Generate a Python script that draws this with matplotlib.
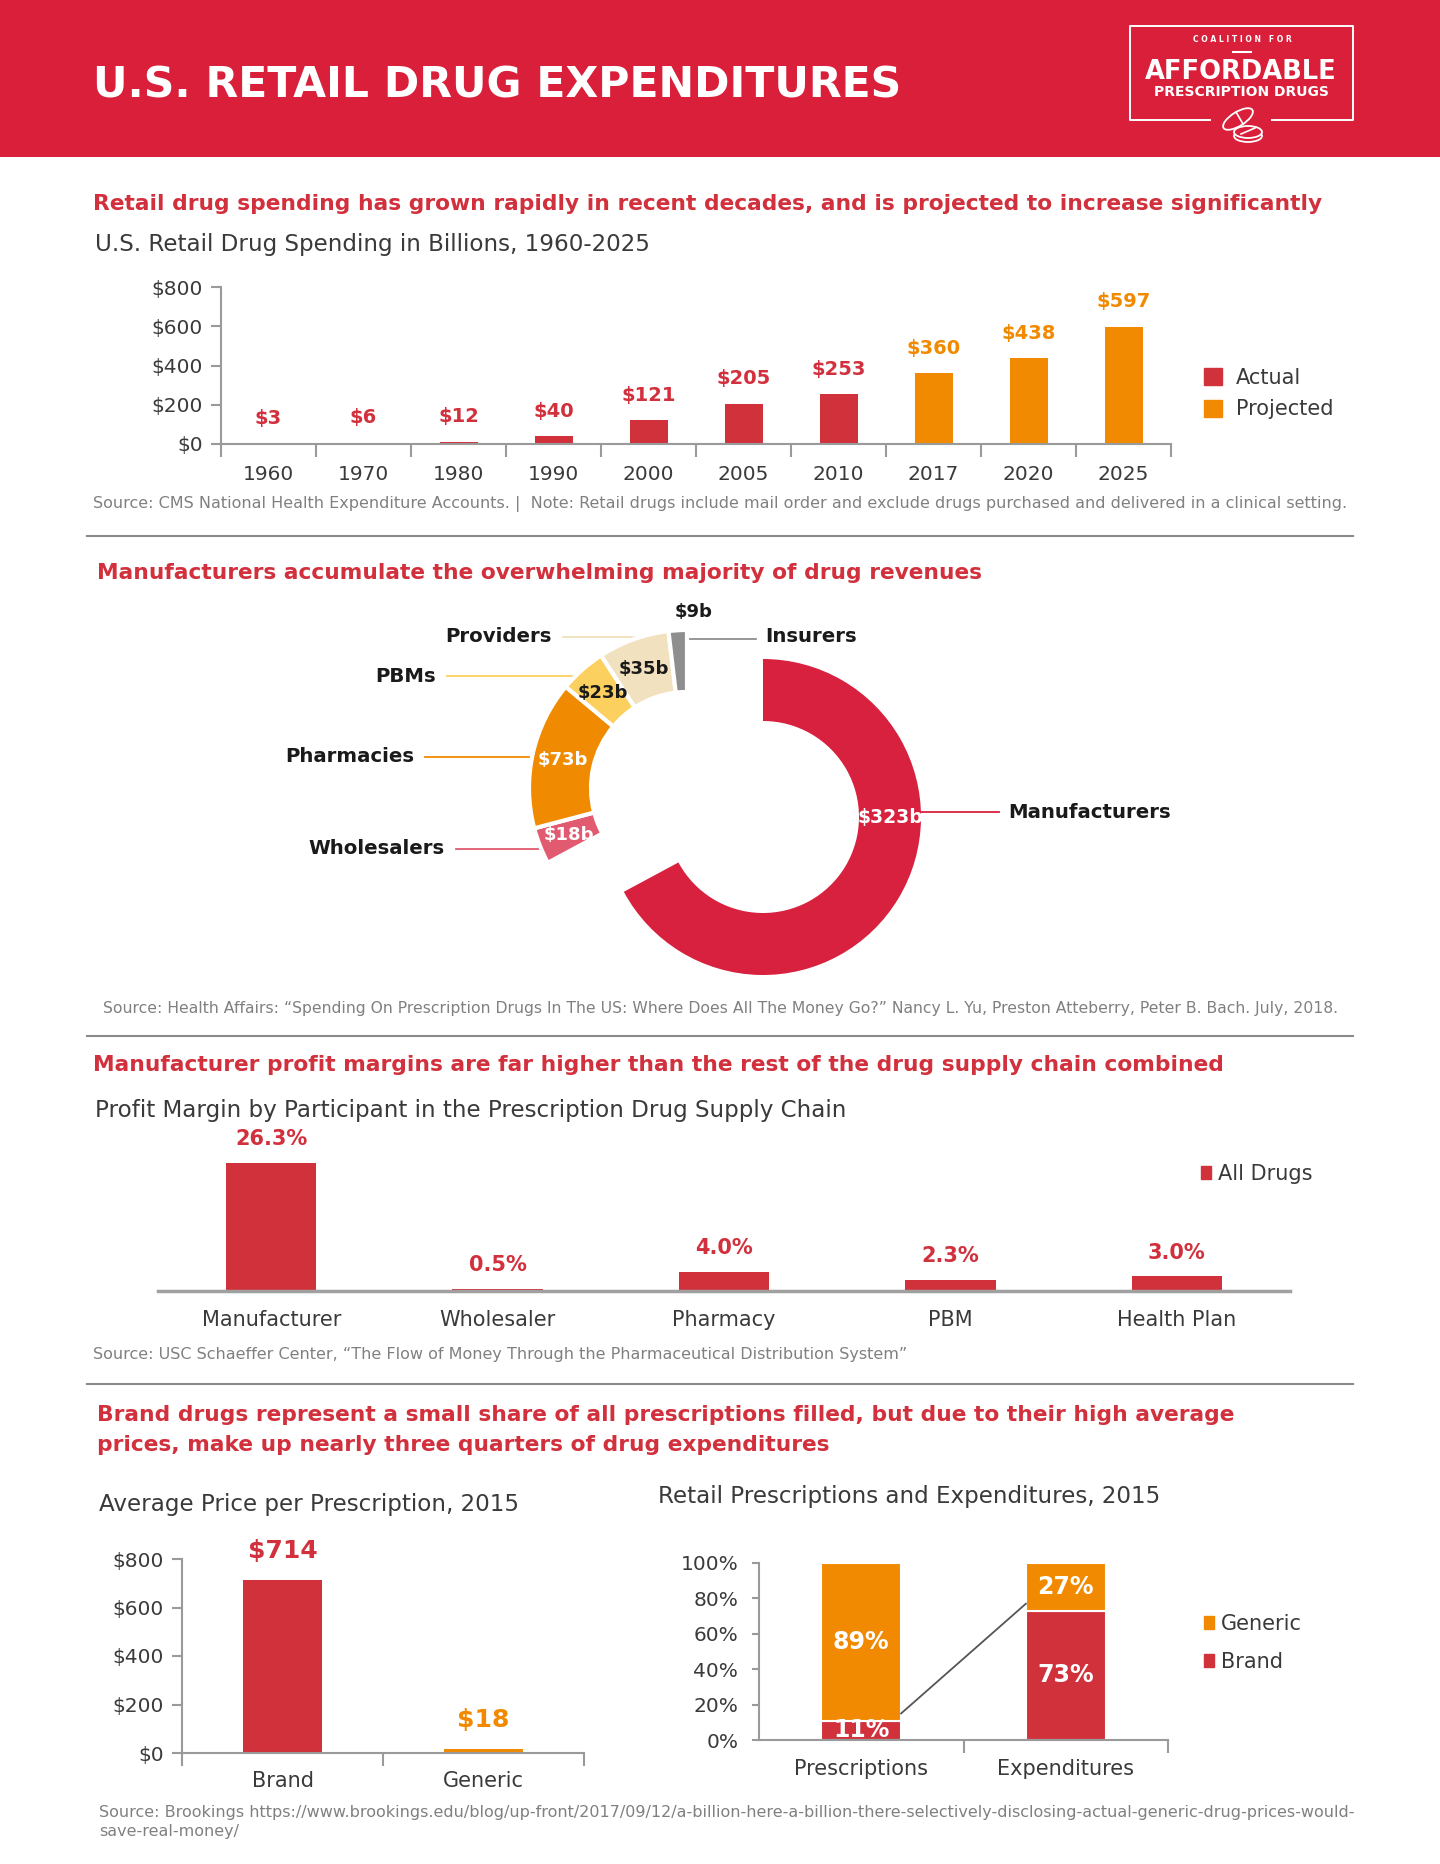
import numpy as np
import matplotlib
matplotlib.use('Agg')
from matplotlib import pyplot as plt
from matplotlib.patches import Rectangle, Patch, Ellipse

plt.rcParams['font.family'] = ['DejaVu Sans']

# ---- data ----
years = ['1960', '1970', '1980', '1990', '2000', '2005', '2010', '2017', '2020', '2025']
spending = [3, 6, 12, 40, 121, 205, 253, 360, 438, 597]
spending_status = ['Actual'] * 7 + ['Projected'] * 3

participants = ['Manufacturers', 'Wholesalers', 'Pharmacies', 'PBMs', 'Providers', 'Insurers']
revenues = [323, 18, 73, 23, 35, 9]

margin_labels = ['Manufacturer', 'Wholesaler', 'Pharmacy', 'PBM', 'Health Plan']
margins = [26.3, 0.5, 4.0, 2.3, 3.0]

price_types = ['Brand', 'Generic']
avg_price = [714, 18]

share_groups = ['Prescriptions', 'Expenditures']
brand_share = [11, 73]
generic_share = [89, 27]

# ---- colours ----
HEADER = '#D91F3A'
HEAD_TXT = '#D1303C'
RED = '#D1313B'
ORANGE = '#F18A00'
AXIS = '#9a9a9a'
TXT = '#3a3a3a'
SRC = '#808080'
donut_colors = ['#D7213E', '#E15A6F', '#F08A00', '#FCD05F', '#F1E1BE', '#8E8E8E']

HEAD_SIZE = 15.7
SUB_SIZE = 16.6
SRC_SIZE = 11.5

W, H = 1440, 1864
fig = plt.figure(figsize=(W / 100, H / 100), dpi=100)


def fx(x):
    return x / W


def fy(y):
    return 1 - y / H


def Y(y):
    # y-up pixel coordinate for the overlay axes
    return H - y


def px_axes(l, t, r, b):
    return fig.add_axes([l / W, 1 - b / H, (r - l) / W, (b - t) / H])


def style_axes(ax, left=True):
    ax.spines['top'].set_visible(False)
    ax.spines['right'].set_visible(False)
    ax.spines['left'].set_visible(left)
    for s in ['left', 'bottom']:
        ax.spines[s].set_color(AXIS)
        ax.spines[s].set_linewidth(1.5)
    ax.set_facecolor('none')


# overlay axes in pixel coordinates for header, separators, logo and donut
ov = fig.add_axes([0, 0, 1, 1])
ov.patch.set_visible(False)

# header band
ov.add_patch(Rectangle((0, Y(157)), W, 157, color=HEADER, lw=0))
fig.text(fx(93), fy(86), 'U.S. RETAIL DRUG EXPENDITURES', color='white',
         fontsize=30.7, fontweight='bold', va='center', ha='left')

# logo
ov.plot([1210, 1130, 1130, 1353, 1353, 1272],
        [Y(120), Y(120), Y(26), Y(26), Y(120), Y(120)], color='white', lw=1.4)
ov.plot([1233, 1251], [Y(52), Y(52)], color='white', lw=1.5)
fig.text(fx(1242), fy(40), 'C O A L I T I O N   F O R', color='white', fontsize=5.5,
         fontweight='bold', ha='center', va='center')
fig.text(fx(1241), fy(72), 'AFFORDABLE', color='white', fontsize=18.5,
         fontweight='bold', ha='center', va='center')
fig.text(fx(1241), fy(92), 'PRESCRIPTION DRUGS', color='white', fontsize=10,
         fontweight='bold', ha='center', va='center')
ov.add_patch(Ellipse((1238, Y(119)), 34, 14, angle=32, facecolor=HEADER,
                     edgecolor='white', lw=1.3))
ov.plot([1236, 1243], [Y(112), Y(124)], color='white', lw=1.2)
ov.add_patch(Ellipse((1248, Y(136)), 28, 12, facecolor=HEADER, edgecolor='white', lw=1.3))
ov.add_patch(Ellipse((1248, Y(132)), 28, 12, facecolor=HEADER, edgecolor='white', lw=1.3))
ov.plot([1241, 1255], [Y(134), Y(128)], color='white', lw=1.2)

# separators
for ysep in [536, 1036, 1384]:
    ov.plot([87, 1353], [Y(ysep), Y(ysep)], color='#8a8a8a', lw=1.5)

# ---------- section 1 ----------
fig.text(fx(93), fy(204), 'Retail drug spending has grown rapidly in recent decades, and is projected to increase significantly',
         color=HEAD_TXT, fontsize=HEAD_SIZE, fontweight='bold', va='center')
fig.text(fx(95), fy(244), 'U.S. Retail Drug Spending in Billions, 1960-2025',
         color=TXT, fontsize=SUB_SIZE, va='center')

ax1 = px_axes(221, 287, 1171, 444)
style_axes(ax1)
x1 = np.arange(len(years))
cols1 = [RED if s == 'Actual' else ORANGE for s in spending_status]
ax1.bar(x1, spending, width=0.4, color=cols1)
for xi, v, c in zip(x1, spending, cols1):
    ax1.annotate(f'${v}', (xi, v), xytext=(0, 18), textcoords='offset points',
                 ha='center', va='center', color=HEAD_TXT if c == RED else c,
                 fontsize=14, fontweight='bold')
ax1.set_xlim(-0.5, len(years) - 0.5)
ax1.set_ylim(0, 800)
ax1.set_xticks(x1)
ax1.set_xticklabels(years)
ax1.set_xticks(np.arange(-0.5, len(years), 1), minor=True)
ax1.tick_params(axis='x', which='major', length=0, pad=15, labelsize=14.5, labelcolor=TXT)
ax1.tick_params(axis='x', which='minor', length=9, width=1.5, color=AXIS)
ax1.set_yticks(range(0, 801, 200))
ax1.set_yticklabels([f'${v}' for v in range(0, 801, 200)])
ax1.tick_params(axis='y', length=7, width=1.5, color=AXIS, labelsize=14.5, labelcolor=TXT, pad=6)
fig.legend(handles=[Patch(color=RED, label='Actual'), Patch(color=ORANGE, label='Projected')],
           loc='upper left', bbox_to_anchor=(fx(1204), fy(368)), frameon=False,
           fontsize=15, handlelength=0.85, handleheight=0.85, handletextpad=0.7,
           labelspacing=0.55, borderpad=0, borderaxespad=0, labelcolor=TXT)
fig.text(fx(93), fy(504), 'Source: CMS National Health Expenditure Accounts. |  Note: Retail drugs include mail order and exclude drugs purchased and delivered in a clinical setting.',
         color=SRC, fontsize=SRC_SIZE, va='center')

# ---------- section 2 ----------
fig.text(fx(97), fy(573), 'Manufacturers accumulate the overwhelming majority of drug revenues',
         color=HEAD_TXT, fontsize=HEAD_SIZE, fontweight='bold', va='center')

R_OUT, RING = 158, 62
c_main = (763, Y(817))
c_rest = (687, Y(788))
main_w, _ = ov.pie(revenues, colors=donut_colors, startangle=90, counterclock=False,
                   radius=R_OUT, center=c_main, frame=True,
                   wedgeprops=dict(width=RING, lw=0))
rest_w, _ = ov.pie(revenues, colors=donut_colors, startangle=90, counterclock=False,
                   radius=R_OUT, center=c_rest, frame=True,
                   wedgeprops=dict(width=RING, edgecolor='white', lw=3))
for w in main_w[1:]:
    w.set_visible(False)
rest_w[0].set_visible(False)
for w in list(main_w) + list(rest_w):
    w.set_zorder(3)


def ring_pos(w, ang=None, r=None):
    a = np.deg2rad((w.theta1 + w.theta2) / 2 if ang is None else ang)
    rr = w.r - w.width / 2 if r is None else r
    return w.center[0] + rr * np.cos(a), w.center[1] + rr * np.sin(a)


# value labels
mx, my = ring_pos(main_w[0], ang=0)
ov.text(mx, my, f'${revenues[0]}b', color='white', fontsize=13.5, fontweight='bold',
        ha='center', va='center', zorder=5)
val_colors = [None, 'white', 'white', '#1a1a1a', '#1a1a1a']
for i in range(1, 5):
    px_, py_ = ring_pos(rest_w[i])
    ov.text(px_, py_, f'${revenues[i]}b', color=val_colors[i], fontsize=13,
            fontweight='bold', ha='center', va='center', zorder=5)
ix, iy = ring_pos(rest_w[5], r=R_OUT + 18)
ov.text(ix + 17, iy, f'${revenues[5]}b', color='#1a1a1a', fontsize=13,
        fontweight='bold', ha='center', va='center', zorder=5)

# leader lines and category labels
CAT_SIZE = 14.2
ov.plot([mx, 999], [Y(812), Y(812)], color=donut_colors[0], lw=1.3, zorder=2)
ov.text(1008, Y(812), participants[0], fontsize=CAT_SIZE, fontweight='bold', color='#1a1a1a',
        ha='left', va='center')
left_labels = {1: (445, 849), 2: (414, 757), 3: (436, 676), 4: (552, 637)}
for i, (lx, ly) in left_labels.items():
    wx, _ = ring_pos(rest_w[i])
    ov.plot([lx + 11, wx], [Y(ly), Y(ly)], color=donut_colors[i], lw=1.3, zorder=2)
    ov.text(lx, Y(ly), participants[i], fontsize=CAT_SIZE, fontweight='bold', color='#1a1a1a',
            ha='right', va='center')
wx, _ = ring_pos(rest_w[5])
ov.plot([wx, 756], [Y(639), Y(639)], color=donut_colors[5], lw=1.3, zorder=2)
ov.text(765, Y(637), participants[5], fontsize=CAT_SIZE, fontweight='bold', color='#1a1a1a',
        ha='left', va='center')

fig.text(fx(103), fy(1008), 'Source: Health Affairs: \u201cSpending On Prescription Drugs In The US: Where Does All The Money Go?\u201d Nancy L. Yu, Preston Atteberry, Peter B. Bach. July, 2018.',
         color=SRC, fontsize=11.25, va='center')

ov.set_xlim(0, W)
ov.set_ylim(0, H)
ov.set_aspect('auto')
ov.axis('off')

# ---------- section 3 ----------
fig.text(fx(93), fy(1065), 'Manufacturer profit margins are far higher than the rest of the drug supply chain combined',
         color=HEAD_TXT, fontsize=HEAD_SIZE, fontweight='bold', va='center')
fig.text(fx(95), fy(1111), 'Profit Margin by Participant in the Prescription Drug Supply Chain',
         color=TXT, fontsize=SUB_SIZE, va='center')

ax3 = px_axes(158, 1130, 1290, 1291)
style_axes(ax3, left=False)
ax3.spines['bottom'].set_color('#a0a0a0')
ax3.spines['bottom'].set_linewidth(2.5)
x3 = np.arange(len(margin_labels))
ax3.bar(x3, margins, width=0.4, color=RED, label='All Drugs')
for xi, v in zip(x3, margins):
    ax3.annotate(f'{v:.1f}%', (xi, v), xytext=(0, 17), textcoords='offset points',
                 ha='center', va='center', color=HEAD_TXT, fontsize=15, fontweight='bold')
ax3.set_xlim(-0.5, len(margin_labels) - 0.5)
ax3.set_ylim(0, 33.1)
ax3.set_yticks([])
ax3.set_xticks(x3)
ax3.set_xticklabels(margin_labels)
ax3.tick_params(axis='x', length=0, pad=14, labelsize=15, labelcolor=TXT)
fig.legend(handles=[Patch(color=RED, label='All Drugs')], loc='center left',
           bbox_to_anchor=(fx(1201), fy(1174)), frameon=False, fontsize=15,
           handlelength=0.5, handleheight=0.6, handletextpad=0.3, borderpad=0,
           borderaxespad=0, labelcolor=TXT)
fig.text(fx(93), fy(1354), 'Source: USC Schaeffer Center, \u201cThe Flow of Money Through the Pharmaceutical Distribution System\u201d',
         color=SRC, fontsize=SRC_SIZE, va='center')

# ---------- section 4 ----------
fig.text(fx(97), fy(1430), 'Brand drugs represent a small share of all prescriptions filled, but due to their high average\nprices, make up nearly three quarters of drug expenditures',
         color=HEAD_TXT, fontsize=HEAD_SIZE, fontweight='bold', va='center', linespacing=1.6)
fig.text(fx(99), fy(1505), 'Average Price per Prescription, 2015', color=TXT, fontsize=SUB_SIZE, va='center')
fig.text(fx(658), fy(1497), 'Retail Prescriptions and Expenditures, 2015', color=TXT, fontsize=SUB_SIZE, va='center')

ax4 = px_axes(182, 1559, 584, 1753)
style_axes(ax4)
x4 = np.arange(len(price_types))
cols4 = [RED, ORANGE]
ax4.bar(x4, avg_price, width=0.39, color=cols4)
for xi, v, c in zip(x4, avg_price, cols4):
    ax4.annotate(f'${v}', (xi, v), xytext=(0, 20.5), textcoords='offset points',
                 ha='center', va='center', color=HEAD_TXT if c == RED else c,
                 fontsize=18, fontweight='bold')
ax4.set_xlim(-0.5, len(price_types) - 0.5)
ax4.set_ylim(0, 800)
ax4.set_xticks(x4)
ax4.set_xticklabels(price_types)
ax4.set_xticks(np.arange(-0.5, len(price_types), 1), minor=True)
ax4.tick_params(axis='x', which='major', length=0, pad=13, labelsize=15, labelcolor=TXT)
ax4.tick_params(axis='x', which='minor', length=9, width=1.5, color=AXIS)
ax4.set_yticks(range(0, 801, 200))
ax4.set_yticklabels([f'${v}' for v in range(0, 801, 200)])
ax4.tick_params(axis='y', length=7, width=1.5, color=AXIS, labelsize=14.5, labelcolor=TXT, pad=6)

ax5 = px_axes(759, 1563, 1168, 1740)
style_axes(ax5)
x5 = np.arange(len(share_groups))
bw = 0.39
ax5.bar(x5, brand_share, width=bw, color=RED, edgecolor='white', lw=1.5, label='Brand')
ax5.bar(x5, generic_share, width=bw, bottom=brand_share, color=ORANGE, edgecolor='white',
        lw=1.5, label='Generic')
for xi, b, g in zip(x5, brand_share, generic_share):
    ax5.text(xi, b / 2, f'{b}%', color='white', fontsize=17, fontweight='bold',
             ha='center', va='center')
    ax5.text(xi, b + g / 2, f'{g}%', color='white', fontsize=17, fontweight='bold',
             ha='center', va='center')
ax5.plot([x5[0] + bw / 2, x5[1] - bw / 2], [brand_share[0] + 4, brand_share[1] + 4],
         color='#555555', lw=1.3)
ax5.set_xlim(-0.5, 1.5)
ax5.set_ylim(0, 100)
ax5.set_xticks(x5)
ax5.set_xticklabels(share_groups)
ax5.set_xticks([0.5, 1.5], minor=True)
ax5.tick_params(axis='x', which='major', length=0, pad=14, labelsize=15, labelcolor=TXT)
ax5.tick_params(axis='x', which='minor', length=9, width=1.5, color=AXIS)
ax5.set_yticks(range(0, 101, 20))
ax5.set_yticklabels([f'{v}%' for v in range(0, 101, 20)])
ax5.tick_params(axis='y', length=5, width=1.5, color=AXIS, labelsize=14.5, labelcolor=TXT, pad=10)
fig.legend(handles=[Patch(color=ORANGE, label='Generic'), Patch(color=RED, label='Brand')],
           loc='upper left', bbox_to_anchor=(fx(1204), fy(1614)), frameon=False,
           fontsize=15, handlelength=0.5, handleheight=0.6, handletextpad=0.3,
           labelspacing=0.85, borderpad=0, borderaxespad=0, labelcolor=TXT)

fig.text(fx(99), fy(1822), 'Source: Brookings https://www.brookings.edu/blog/up-front/2017/09/12/a-billion-here-a-billion-there-selectively-disclosing-actual-generic-drug-prices-would-\nsave-real-money/',
         color=SRC, fontsize=SRC_SIZE, va='center', linespacing=1.3)

fig.savefig('out.png', dpi=100)
